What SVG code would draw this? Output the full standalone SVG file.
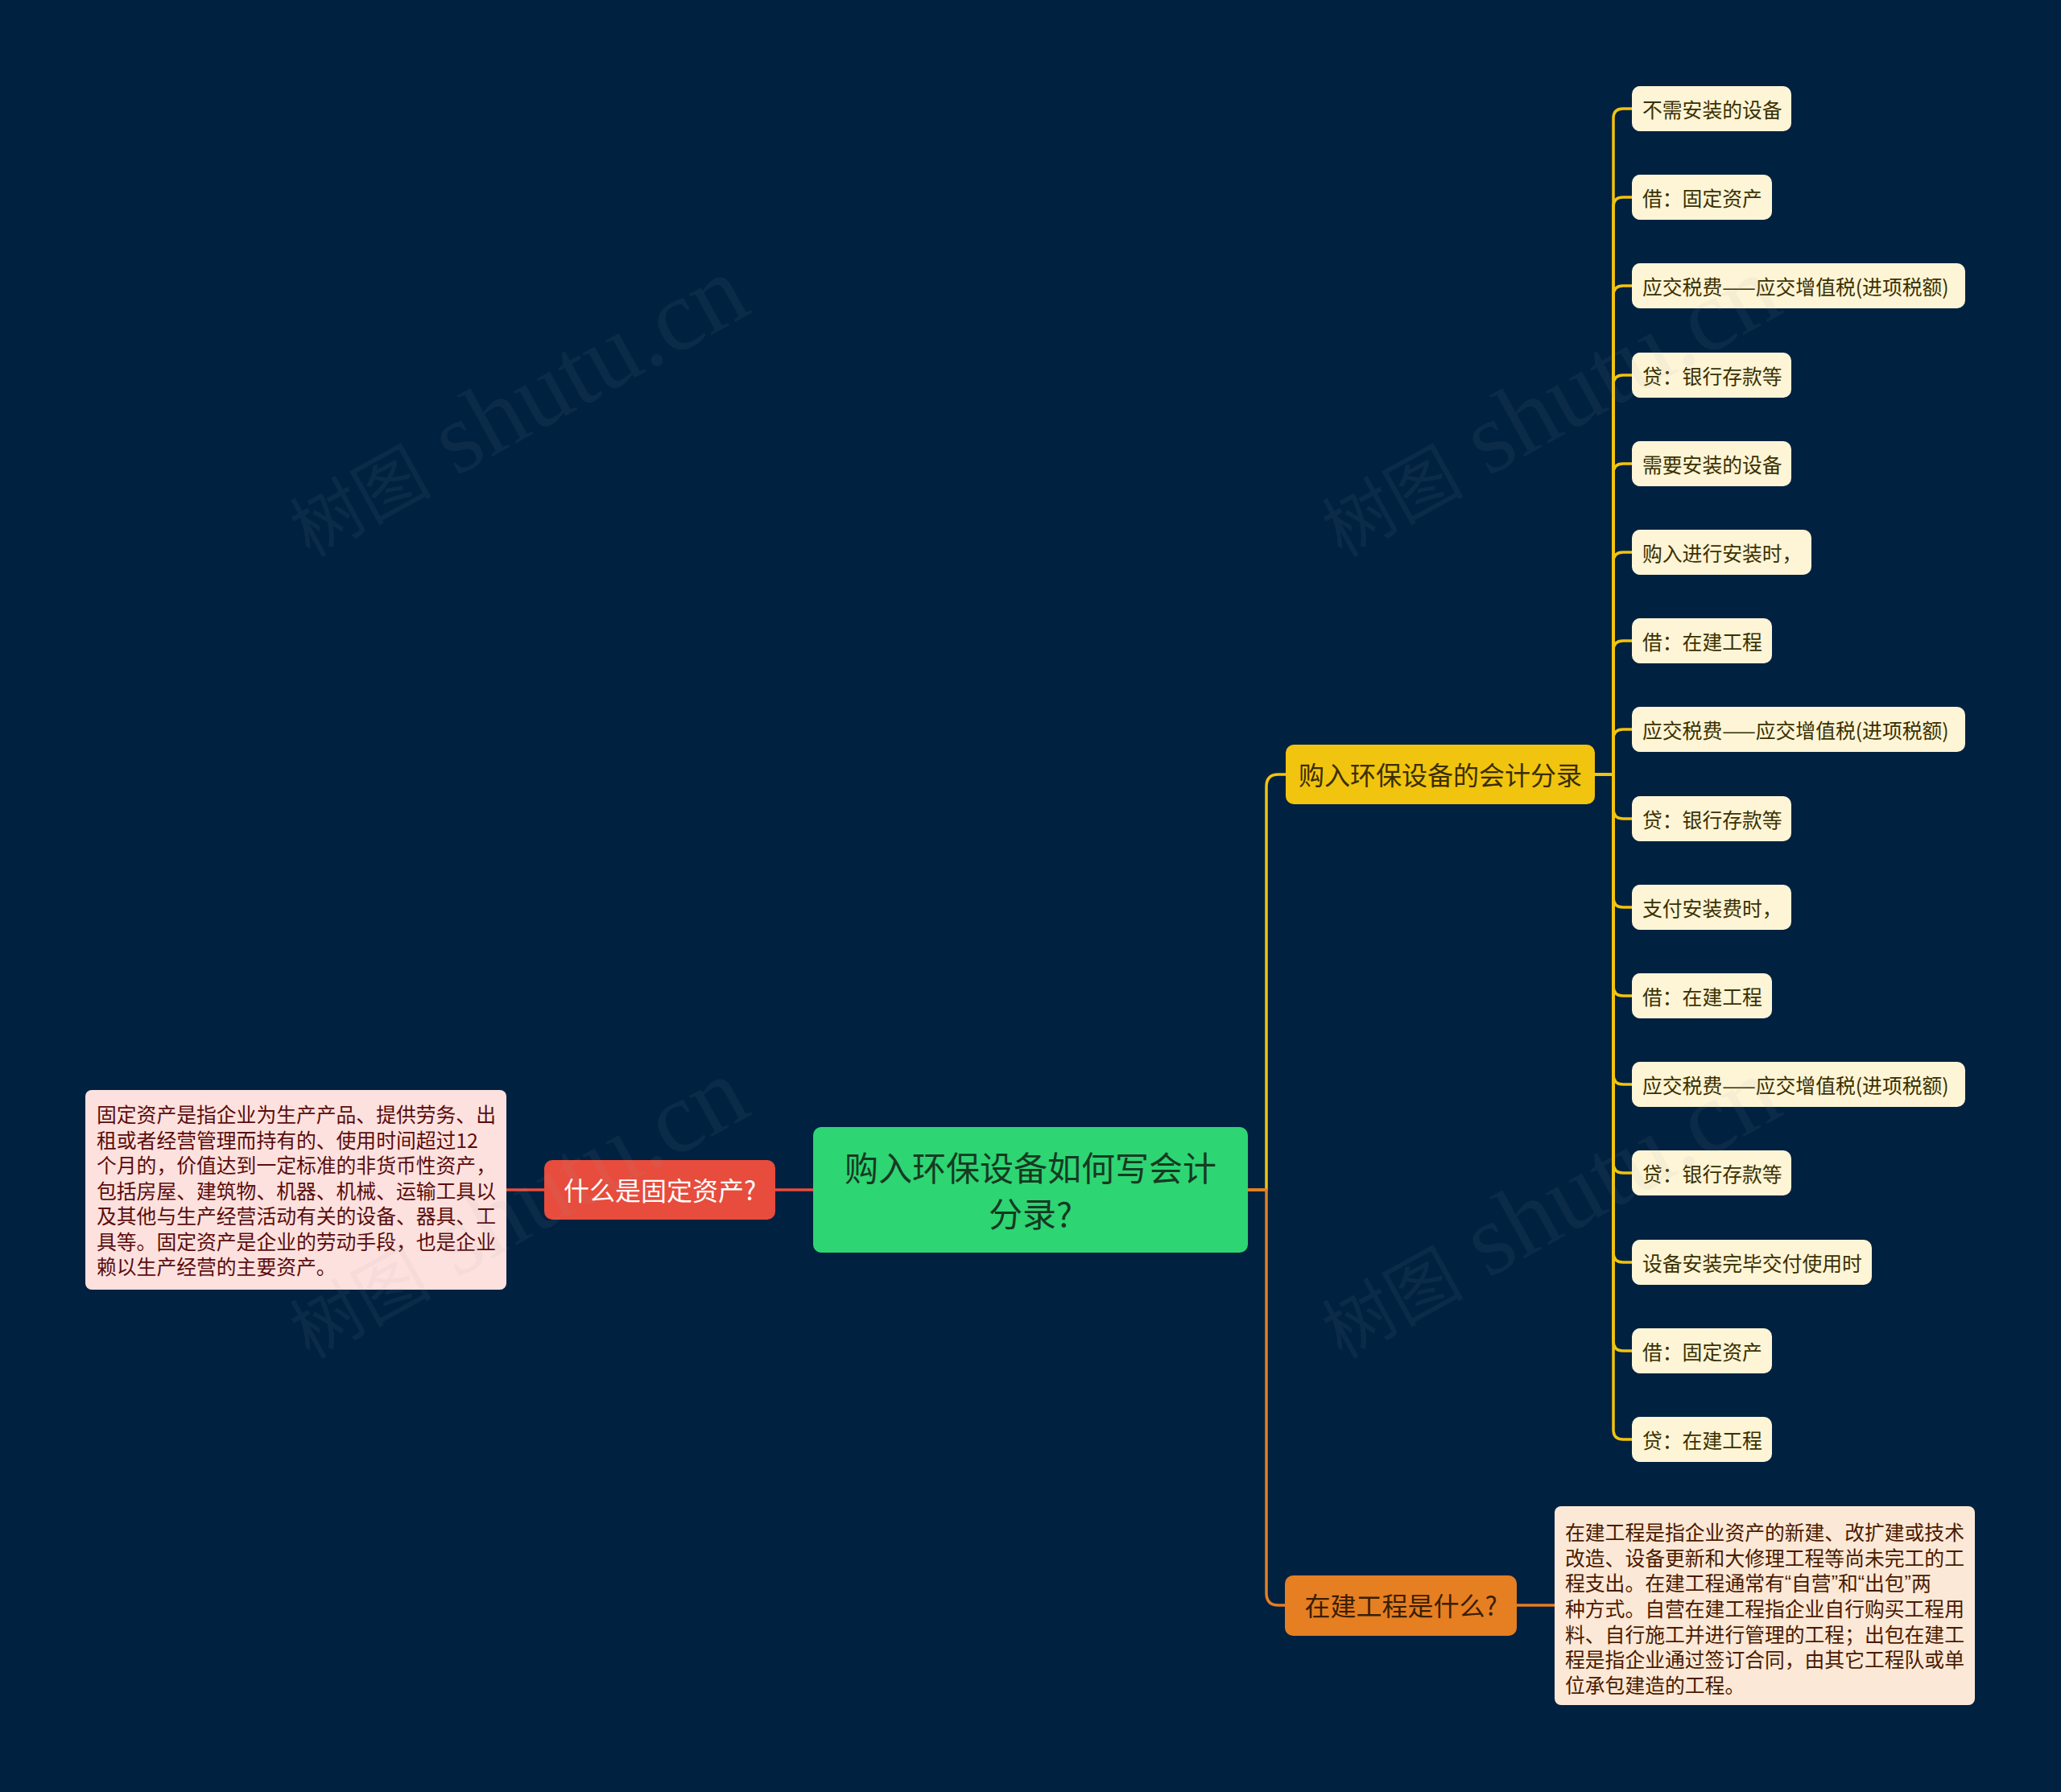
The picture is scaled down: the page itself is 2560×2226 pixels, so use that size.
<svg xmlns="http://www.w3.org/2000/svg" width="2560" height="2226" viewBox="0 0 2560 2226">
<style>
text{font-family:"Noto Sans CJK SC","Noto Sans",sans-serif;dominant-baseline:central}
.ln{fill:none;stroke-width:3.5;stroke-linejoin:round}
.y{stroke:#f1c40f}.o{stroke:#e67e22}.r{stroke:#e74c3c}
.leaf rect{fill:#fdf5d6}
.leaf text{font-size:24.8px;fill:#3b3000}
.desc text{font-size:24.8px}
.q{font-family:"Liberation Sans",sans-serif}
.wm text{font-family:"Liberation Serif","Noto Sans CJK SC",serif;fill:#9aa3ad;fill-opacity:0.08;dominant-baseline:alphabetic}
</style>
<rect width="2560" height="2226" fill="#012140"/>
<g id="connectors">
<path class="ln r" d="M629,1478 H1010"/>
<path class="ln y" d="M1550,1478 H1573 V977 Q1573,962 1588,962 H1597"/>
<path class="ln o" d="M1550,1478 H1573 V1979 Q1573,1994 1588,1994 H1596"/>
<path class="ln o" d="M1884,1994 H1931"/>
<g class="ln y">
<path d="M1981,962 H2004 V147 Q2004,135 2016,135 H2027"/>
<path d="M1981,962 H2004 V257 Q2004,245 2016,245 H2027"/>
<path d="M1981,962 H2004 V367 Q2004,355 2016,355 H2027"/>
<path d="M1981,962 H2004 V478 Q2004,466 2016,466 H2027"/>
<path d="M1981,962 H2004 V588 Q2004,576 2016,576 H2027"/>
<path d="M1981,962 H2004 V698 Q2004,686 2016,686 H2027"/>
<path d="M1981,962 H2004 V808 Q2004,796 2016,796 H2027"/>
<path d="M1981,962 H2004 V918 Q2004,906 2016,906 H2027"/>
<path d="M1981,962 H2004 V1005 Q2004,1017 2016,1017 H2027"/>
<path d="M1981,962 H2004 V1115 Q2004,1127 2016,1127 H2027"/>
<path d="M1981,962 H2004 V1225 Q2004,1237 2016,1237 H2027"/>
<path d="M1981,962 H2004 V1335 Q2004,1347 2016,1347 H2027"/>
<path d="M1981,962 H2004 V1445 Q2004,1457 2016,1457 H2027"/>
<path d="M1981,962 H2004 V1556 Q2004,1568 2016,1568 H2027"/>
<path d="M1981,962 H2004 V1666 Q2004,1678 2016,1678 H2027"/>
<path d="M1981,962 H2004 V1776 Q2004,1788 2016,1788 H2027"/>
</g>
</g>
<g id="root">
<rect x="1010" y="1400" width="540" height="156" rx="10" fill="#2ed573"/>
<text x="1280" y="1448" font-size="42" fill="#163a22" text-anchor="middle">购入环保设备如何写会计</text>
<text x="1280" y="1505" font-size="42" fill="#163a22" text-anchor="middle">分录?</text>
</g>
<g id="n-gudingzichan">
<rect x="676" y="1441" width="287" height="74" rx="10" fill="#e74c3c"/>
<text x="819.5" y="1477" font-size="32" fill="#ffffff" text-anchor="middle">什么是固定资产?</text>
</g>
<g id="n-gudingzichan-desc" class="desc">
<rect x="106" y="1354" width="523" height="248" rx="8" fill="#fde1de"/>
<g fill="#5a0d0d">
<text x="120" y="1383">固定资产是指企业为生产产品、提供劳务、出</text>
<text x="120" y="1414.5">租或者经营管理而持有的、使用时间超过12</text>
<text x="120" y="1446">个月的，价值达到一定标准的非货币性资产，</text>
<text x="120" y="1477.5">包括房屋、建筑物、机器、机械、运输工具以</text>
<text x="120" y="1509">及其他与生产经营活动有关的设备、器具、工</text>
<text x="120" y="1540.5">具等。固定资产是企业的劳动手段，也是企业</text>
<text x="120" y="1572">赖以生产经营的主要资产。</text>
</g>
</g>
<g id="n-fenlu">
<rect x="1597" y="925" width="384" height="74" rx="10" fill="#f1c40f"/>
<text x="1789" y="961" font-size="32" fill="#3a2e00" text-anchor="middle">购入环保设备的会计分录</text>
</g>
<g id="n-zaijian">
<rect x="1596" y="1957" width="288" height="75" rx="10" fill="#e67e22"/>
<text x="1740" y="1993" font-size="32" fill="#3a1e00" text-anchor="middle">在建工程是什么?</text>
</g>
<g id="n-zaijian-desc" class="desc">
<rect x="1931" y="1871" width="522" height="247" rx="8" fill="#fce8d6"/>
<g fill="#4a1a00">
<text x="1944" y="1902">在建工程是指企业资产的新建、改扩建或技术</text>
<text x="1944" y="1933.7">改造、设备更新和大修理工程等尚未完工的工</text>
<text x="1944" y="1965.3">程支出。在建工程通常有<tspan class="q">“</tspan>自营<tspan class="q">”</tspan>和<tspan class="q">“</tspan>出包<tspan class="q">”</tspan>两</text>
<text x="1944" y="1997">种方式。自营在建工程指企业自行购买工程用</text>
<text x="1944" y="2028.7">料、自行施工并进行管理的工程；出包在建工</text>
<text x="1944" y="2060.3">程是指企业通过签订合同，由其它工程队或单</text>
<text x="1944" y="2092">位承包建造的工程。</text>
</g>
</g>
<g id="leaf1" class="leaf"><rect x="2027" y="107" width="198" height="56" rx="10"/><text x="2040" y="135">不需安装的设备</text></g>
<g id="leaf2" class="leaf"><rect x="2027" y="217" width="174" height="56" rx="10"/><text x="2040" y="245">借：固定资产</text></g>
<g id="leaf3" class="leaf"><rect x="2027" y="327" width="414" height="56" rx="10"/><text x="2040" y="355">应交税费——应交增值税(进项税额)</text></g>
<g id="leaf4" class="leaf"><rect x="2027" y="438" width="198" height="56" rx="10"/><text x="2040" y="466">贷：银行存款等</text></g>
<g id="leaf5" class="leaf"><rect x="2027" y="548" width="198" height="56" rx="10"/><text x="2040" y="576">需要安装的设备</text></g>
<g id="leaf6" class="leaf"><rect x="2027" y="658" width="223" height="56" rx="10"/><text x="2040" y="686">购入进行安装时，</text></g>
<g id="leaf7" class="leaf"><rect x="2027" y="768" width="174" height="56" rx="10"/><text x="2040" y="796">借：在建工程</text></g>
<g id="leaf8" class="leaf"><rect x="2027" y="878" width="414" height="56" rx="10"/><text x="2040" y="906">应交税费——应交增值税(进项税额)</text></g>
<g id="leaf9" class="leaf"><rect x="2027" y="989" width="198" height="56" rx="10"/><text x="2040" y="1017">贷：银行存款等</text></g>
<g id="leaf10" class="leaf"><rect x="2027" y="1099" width="198" height="56" rx="10"/><text x="2040" y="1127">支付安装费时，</text></g>
<g id="leaf11" class="leaf"><rect x="2027" y="1209" width="174" height="56" rx="10"/><text x="2040" y="1237">借：在建工程</text></g>
<g id="leaf12" class="leaf"><rect x="2027" y="1319" width="414" height="56" rx="10"/><text x="2040" y="1347">应交税费——应交增值税(进项税额)</text></g>
<g id="leaf13" class="leaf"><rect x="2027" y="1429" width="198" height="56" rx="10"/><text x="2040" y="1457">贷：银行存款等</text></g>
<g id="leaf14" class="leaf"><rect x="2027" y="1540" width="298" height="56" rx="10"/><text x="2040" y="1568">设备安装完毕交付使用时</text></g>
<g id="leaf15" class="leaf"><rect x="2027" y="1650" width="174" height="56" rx="10"/><text x="2040" y="1678">借：固定资产</text></g>
<g id="leaf16" class="leaf"><rect x="2027" y="1760" width="174" height="56" rx="10"/><text x="2040" y="1788">贷：在建工程</text></g>
<g id="watermarks" class="wm">
<text transform="translate(645,512) rotate(-29)" text-anchor="middle" y="32"><tspan font-size="88">树图</tspan><tspan font-size="126"> shutu.cn</tspan></text>
<text transform="translate(1927,512) rotate(-29)" text-anchor="middle" y="32"><tspan font-size="88">树图</tspan><tspan font-size="126"> shutu.cn</tspan></text>
<text transform="translate(645,1508) rotate(-29)" text-anchor="middle" y="32"><tspan font-size="88">树图</tspan><tspan font-size="126"> shutu.cn</tspan></text>
<text transform="translate(1927,1508) rotate(-29)" text-anchor="middle" y="32"><tspan font-size="88">树图</tspan><tspan font-size="126"> shutu.cn</tspan></text>
</g>
</svg>
